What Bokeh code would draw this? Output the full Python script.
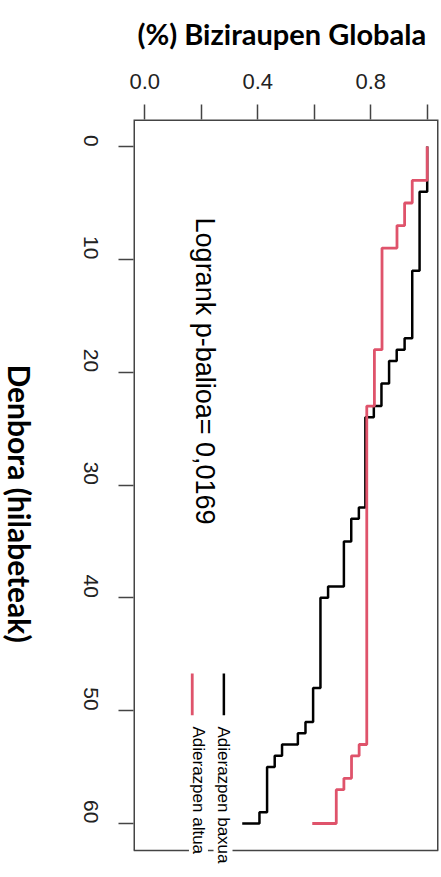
import math
from bokeh.plotting import figure
from bokeh.layouts import row, column
from bokeh.models import Range1d, FixedTicker, Label, NumeralTickFormatter
from bokeh.core.properties import value
from bokeh.embed import file_html
from bokeh.resources import INLINE

# ---- data ----
# Kaplan-Meier steps: event times (months) and survival after each event
low_times = [0, 4, 11, 17, 18, 19, 21, 23, 24, 32, 33, 35, 39, 40, 48, 51, 52, 53, 54, 55, 59, 60]
low_surv = [1.0, 0.973, 0.947, 0.920, 0.892, 0.865, 0.838, 0.811, 0.781, 0.758, 0.731, 0.705,
            0.649, 0.622, 0.596, 0.569, 0.542, 0.486, 0.460, 0.433, 0.406, 0.345]
high_times = [0, 3, 5, 7, 9, 18, 23, 53, 54, 56, 57, 60]
high_surv = [1.0, 0.947, 0.920, 0.893, 0.840, 0.813, 0.786, 0.759, 0.732, 0.705, 0.678, 0.593]

survival_label_ticks = [0.0, 0.4, 0.8]
survival_minor_ticks = [0.2, 0.6, 1.0]
time_ticks = [0, 10, 20, 30, 40, 50, 60]

title_text = "(%) Biziraupen Globala"
time_label = "Denbora (hilabeteak)"
pvalue_text = "Logrank p-balioa= 0,0169"
legend_low = "Adierazpen baxua"
legend_high = "Adierazpen altua"

RED = "#DF536B"
AXC = "#444444"

# plot box limits (R style 4% padding)
S_LO, S_HI = -0.04, 1.04
T_LO, T_HI = -2.4, 62.4

LEFT_W = 36
TOP_H = 56
TOTAL_W, TOTAL_H = 440, 876
FRAME_L, FRAME_R = 133, 438   # page x of the main plot frame


def km_path(times, surv):
    xs = [surv[0]]
    ys = [times[0]]
    for i in range(1, len(times)):
        xs += [surv[i - 1], surv[i]]
        ys += [times[i], times[i]]
    return xs, ys


def strip(w, h, xr):
    f = figure(width=w, height=h, x_range=xr, y_range=Range1d(h, 0),
               x_axis_location=None, y_axis_location=None,
               output_backend="svg", toolbar_location=None,
               min_border_left=0, min_border_right=0, min_border_top=0, min_border_bottom=0)
    f.grid.visible = False
    f.outline_line_color = None
    f.background_fill_color = "white"
    f.border_fill_color = "white"
    return f


# ---- narrow strip holding the rotated time-axis title ----
lab = strip(LEFT_W, TOTAL_H, Range1d(0, LEFT_W))
lab.text(x=[19], y=[503], text=[time_label], angle=-math.pi / 2,
         text_font=value("Lato"), text_font_style="bold", text_font_size="30px",
         text_align="center", text_baseline="middle", text_color="black")

# ---- strip holding the chart title (its frame is aligned with the main frame) ----
top = strip(TOTAL_W - LEFT_W, TOP_H, Range1d(FRAME_L, FRAME_R))
top.text(x=[137], y=[33], text=[title_text],
         text_font=value("Lato"), text_font_style="bold", text_font_size="29px",
         text_align="left", text_baseline="middle", text_color="black")

# ---- main survival plot ----
p = figure(width=TOTAL_W - LEFT_W, height=TOTAL_H - TOP_H,
           x_range=Range1d(S_LO, S_HI), y_range=Range1d(64.7, T_LO),
           x_axis_location="above",
           output_backend="svg", toolbar_location=None,
           min_border_left=FRAME_L - LEFT_W, min_border_right=TOTAL_W - FRAME_R,
           min_border_top=119 - TOP_H, min_border_bottom=0)
p.grid.visible = False
p.outline_line_color = None
p.background_fill_color = "white"
p.border_fill_color = "white"

# survival axis (top)
xa = p.xaxis[0]
xa.ticker = FixedTicker(ticks=survival_label_ticks, minor_ticks=survival_minor_ticks)
xa.formatter = NumeralTickFormatter(format="0.0")
xa.axis_line_color = None
xa.major_tick_out = 15
xa.major_tick_in = 0
xa.minor_tick_out = 15
xa.minor_tick_in = 0
xa.major_tick_line_color = AXC
xa.minor_tick_line_color = AXC
xa.major_tick_line_width = 1.5
xa.minor_tick_line_width = 1.5
xa.major_label_text_font = "Liberation Sans"
xa.major_label_text_font_size = "22px"
xa.major_label_text_color = "#222222"
xa.major_label_standoff = 16

# time axis (left)
ya = p.yaxis[0]
ya.ticker = FixedTicker(ticks=time_ticks, minor_ticks=[])
ya.axis_line_color = None
ya.major_tick_out = 15
ya.major_tick_in = 0
ya.minor_tick_out = 0
ya.minor_tick_in = 0
ya.major_tick_line_color = AXC
ya.major_tick_line_width = 1.5
ya.major_label_orientation = -math.pi / 2
ya.major_label_text_font = "Liberation Sans"
ya.major_label_text_font_size = "21px"
ya.major_label_text_color = "#222222"
ya.major_label_standoff = 28

# plot box (left/top/right on frame edge, bottom inside)
p.line([S_LO, S_LO, S_HI, S_HI], [T_HI, T_LO, T_LO, T_HI], line_color=AXC, line_width=3)
p.line([S_LO, S_HI], [T_HI, T_HI], line_color=AXC, line_width=1.5)

# curves
lx, ly = km_path(low_times, low_surv)
hx, hy = km_path(high_times, high_surv)
p.line(lx, ly, line_color="black", line_width=2.5)
p.line(hx, hy, line_color=RED, line_width=2.8)

# legend lines
p.line([0.280, 0.280], [46.7, 50.4], line_color="black", line_width=2.5)
p.line([0.168, 0.168], [46.7, 50.4], line_color=RED, line_width=2.8)

# texts
p.add_layout(Label(x=0.214, y=19.9, text=pvalue_text, text_font="Liberation Sans",
                   text_font_size="27px", angle=-math.pi / 2,
                   text_align="center", text_baseline="middle", text_color="black"))
p.add_layout(Label(x=0.277, y=51.4, text=legend_low, text_font="Liberation Sans",
                   text_font_size="17px", angle=-math.pi / 2,
                   text_align="left", text_baseline="middle", text_color="black",
                   background_fill_color="white"))
p.add_layout(Label(x=0.190, y=51.4, text=legend_high, text_font="Liberation Sans",
                   text_font_size="17px", angle=-math.pi / 2,
                   text_align="left", text_baseline="middle", text_color="black",
                   background_fill_color="white"))

layout = row(lab, column(top, p))
open("out.html", "w").write(file_html(layout, INLINE))
